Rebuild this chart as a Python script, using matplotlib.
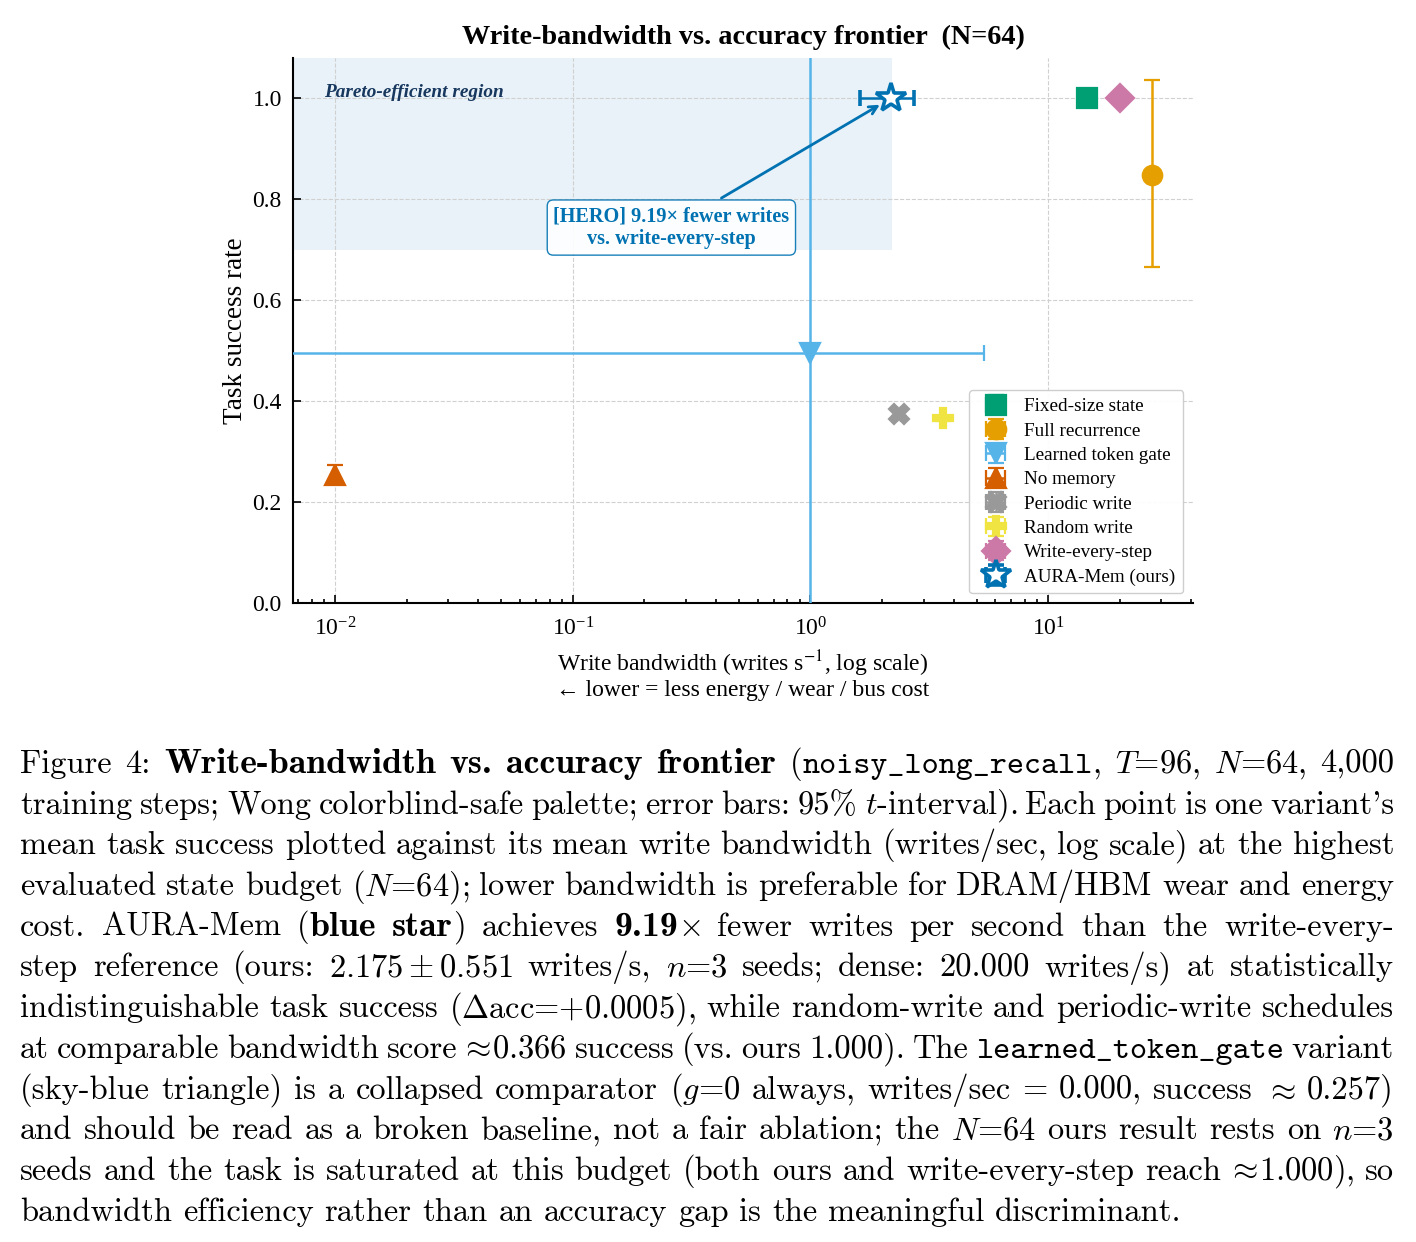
import matplotlib
matplotlib.use('Agg')
import matplotlib.pyplot as plt
from matplotlib.transforms import IdentityTransform

plt.rcParams['font.family'] = ['Liberation Serif', 'DejaVu Serif']
plt.rcParams['mathtext.fontset'] = 'stix'

# ---- data ----
variants = ['Fixed-size state', 'Full recurrence', 'Learned token gate', 'No memory',
            'Periodic write', 'Random write', 'Write-every-step', 'AURA-Mem (ours)']
bandwidth = [14.6, 27.4, 1.0, 0.01, 2.36, 3.61, 20.0, 2.175]
bw_err_lo = [0.0, 0.0, 0.999, 0.0, 0.05, 0.05, 0.0, 0.551]
bw_err_hi = [0.0, 0.0, 4.4, 0.0, 0.05, 0.05, 0.0, 0.551]
success = [1.0, 0.849, 0.496, 0.254, 0.375, 0.366, 1.0, 1.0]
succ_err_lo = [0.0, 0.184, 1.0, 0.012, 0.005, 0.005, 0.0, 0.0]
succ_err_hi = [0.0, 0.187, 1.0, 0.020, 0.005, 0.005, 0.0, 0.0]

colors = ['#009E73', '#E69F00', '#56B4E9', '#D55E00', '#999999', '#F0E442', '#CC79A7', '#0072B2']
markers = ['s', 'o', 'v', '^', 'X', 'P', 'D', '*']

ours_bw = 2.175
hero_label = '[HERO] 9.19× fewer writes\nvs. write-every-step'

fig = plt.figure(figsize=(14.16, 12.42), dpi=100)
ax = fig.add_axes([0.2069, 0.5145, 0.6356, 0.4388])
ax.set_xscale('log')
xmin, xmax = 0.00665, 40.7
ax.set_xlim(xmin, xmax)
ax.set_ylim(0, 1.08)

# pareto region
ax.fill_between([xmin, 2.21], 0.70, 1.2, color='#0072B2', alpha=0.09, lw=0, zorder=0)
ax.text(0.035, 1.012, 'Pareto-efficient region', transform=ax.get_yaxis_transform(),
        fontsize=13.9, fontstyle='italic', fontweight='bold', color='#17375e', va='center')

for i, name in enumerate(variants):
    is_ours = name.startswith('AURA')
    ax.errorbar(bandwidth[i], success[i],
                xerr=[[bw_err_lo[i]], [bw_err_hi[i]]],
                yerr=[[succ_err_lo[i]], [succ_err_hi[i]]],
                fmt=markers[i], color=colors[i], ecolor=colors[i],
                ms=22 if is_ours else 14,
                mfc='white' if is_ours else colors[i],
                mec=colors[i], mew=2.6 if is_ours else 1.6,
                elinewidth=1.8, capsize=5.5, capthick=1.8,
                label=name, zorder=6 if is_ours else 3)

ax.annotate(hero_label, xy=(ours_bw, 1.0), xytext=(0.26, 0.744),
            ha='center', va='center', fontsize=14.6, fontweight='bold', color='#0072B2',
            bbox=dict(boxstyle='round,pad=0.3', fc='white', ec='#0072B2', lw=1, alpha=0.9),
            arrowprops=dict(arrowstyle='->', color='#0072B2', lw=2, shrinkB=9),
            zorder=7)

ax.set_title('Write-bandwidth vs. accuracy frontier  (N=64)', fontsize=20.3, fontweight='bold', pad=10)
ax.set_ylabel('Task success rate', fontsize=19.5, labelpad=3)
ax.set_xlabel('Write bandwidth (writes s$^{-1}$, log scale)\n← lower = less energy / wear / bus cost',
              fontsize=17, labelpad=6, linespacing=1.05)
ax.set_yticks([0.0, 0.2, 0.4, 0.6, 0.8, 1.0])
ax.set_yticklabels(['0.0', '0.2', '0.4', '0.6', '0.8', '1.0'])
ax.tick_params(which='both', direction='in', labelsize=17, width=1.2)
ax.tick_params(which='major', length=6)
ax.tick_params(which='minor', length=3)
ax.tick_params(axis='x', which='major', pad=10)
ax.tick_params(axis='y', pad=8)
for s in ['top', 'right']:
    ax.spines[s].set_visible(False)
for s in ['left', 'bottom']:
    ax.spines[s].set_linewidth(1.5)
ax.grid(True, which='major', ls='--', color='#d0d0d0', lw=0.8)
ax.set_axisbelow(True)

leg = ax.legend(loc='lower right', fontsize=13.8, labelspacing=0.36, handletextpad=0.5,
                borderpad=0.4, frameon=True, edgecolor='#cccccc', framealpha=0.95)

# ---- caption under the figure, justified ----
caption = [
    [('r', 'Figure 4: '), ('b', 'Write-bandwidth vs. accuracy frontier'), ('r', ' ('),
     ('t', 'noisy_long_recall'), ('r', ', $T$=96, $N$=64, 4,000')],
    [('r', "training steps; Wong colorblind-safe palette; error bars: 95% $t$-interval). Each point is one variant's")],
    [('r', 'mean task success plotted against its mean write bandwidth (writes/sec, log scale) at the highest')],
    [('r', 'evaluated state budget ($N$=64); lower bandwidth is preferable for DRAM/HBM wear and energy')],
    [('r', 'cost. AURA-Mem ('), ('b', 'blue star'), ('r', ') achieves '), ('b', '9.19'),
     ('r', r'$\times$ fewer writes per second than the write-every-')],
    [('r', r'step reference (ours: $2.175\pm0.551$ writes/s, $n$=3 seeds; dense: 20.000 writes/s) at statistically')],
    [('r', r'indistinguishable task success ($\Delta$acc=+0.0005), while random-write and periodic-write schedules')],
    [('r', r'at comparable bandwidth score $\!\approx\!$0.366 success (vs. ours 1.000). The '),
     ('t', 'learned_token_gate'), ('r', ' variant')],
    [('r', r'(sky-blue triangle) is a collapsed comparator ($g$=0 always, writes/sec = 0.000, success $\approx$ 0.257)')],
    [('r', r'and should be read as a broken baseline, not a fair ablation; the $N$=64 ours result rests on $n$=3')],
    [('r', r'seeds and the task is saturated at this budget (both ours and write-every-step reach $\!\approx\!$1.000), so')],
    [('r', 'bandwidth efficiency rather than an accuracy gap is the meaningful discriminant.')],
]
cap_fonts = {'r': 'cmr10', 'b': 'cmb10', 't': 'cmtt10'}
cap_size = 23.4
# LaTeX bold (cmbx) is wider than matplotlib's cmb10, so bump it a little
cap_sizes = {'r': cap_size, 'b': 25.8, 't': cap_size}


def split_words(pieces):
    words = [[]]
    for style, txt in pieces:
        parts = txt.split(' ')
        for k, p in enumerate(parts):
            if k > 0:
                words.append([])
            if p:
                words[-1].append((style, p))
    return [w for w in words if w]


rend = fig.canvas.get_renderer()
H = 1242
left_px, right_px = 20, 1394
for i, line in enumerate(caption):
    words = split_words(line)
    arts = []
    for w in words:
        ps = []
        for style, txt in w:
            t = fig.text(0, 0, txt, family=cap_fonts[style], fontsize=cap_sizes[style],
                         math_fontfamily='cm', va='baseline', ha='left',
                         transform=IdentityTransform())
            ps.append((t, t.get_window_extent(rend).width))
        arts.append(ps)
    widths = [sum(p[1] for p in a) for a in arts]
    if i < len(caption) - 1:
        gap = (right_px - left_px - sum(widths)) / (len(arts) - 1)
    else:
        gap = cap_size * 100 / 72 * 0.333
    x = left_px
    y = H - (773 + 40.7 * i)
    for a, w in zip(arts, widths):
        xx = x
        for t, pw in a:
            t.set_position((xx, y))
            xx += pw
        x += w + gap

fig.savefig('out.png', dpi=100)
